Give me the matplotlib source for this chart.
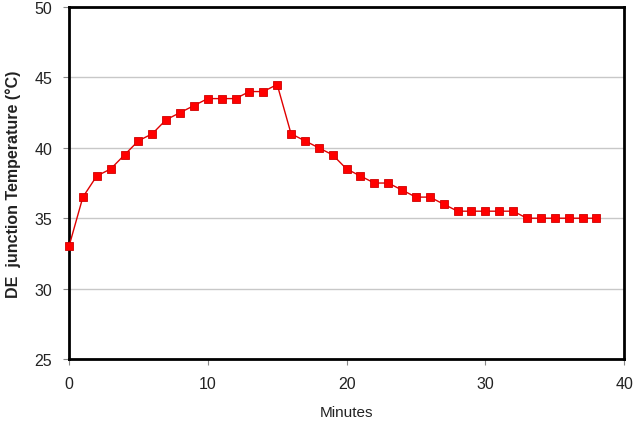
import numpy as np
import matplotlib
matplotlib.use('Agg')
import matplotlib.pyplot as plt

plt.rcParams['font.family'] = ['Liberation Sans', 'DejaVu Sans']

# 측정값 (분 단위, 접합부 온도 °C)
minutes = list(range(0, 39))
temps = [33, 36.5, 38, 38.5, 39.5, 40.5, 41, 42, 42.5, 43,
         43.5, 43.5, 43.5, 44, 44, 44.5, 41, 40.5, 40, 39.5,
         38.5, 38, 37.5, 37.5, 37, 36.5, 36.5, 36, 35.5, 35.5,
         35.5, 35.5, 35.5, 35, 35, 35, 35, 35, 35]
x_ticks = [0, 10, 20, 30, 40]
y_ticks = [25, 30, 35, 40, 45, 50]

fig = plt.figure(figsize=(6.33, 4.27), dpi=100)
ax = fig.add_axes([0.109, 0.157, 0.877, 0.824])

ax.plot(minutes, temps, color='#e00000', lw=1.0, marker='s', ms=5.8,
        mfc='#ff0000', mec='#d00000', mew=0.6, zorder=3, clip_on=False)

ax.set_xlim(0, 40); ax.set_ylim(25, 50)
ax.set_xticks(x_ticks); ax.set_yticks(y_ticks)
ax.yaxis.grid(True, color='#c8c8c8', lw=1.0)
ax.set_axisbelow(True)
for s in ax.spines.values():
    s.set_linewidth(2.0); s.set_color('black')
ax.tick_params(axis='both', labelsize=11.5, length=4, width=0.8, color='#888888',
               labelcolor='#222222', pad=8)
ax.set_xlabel("Minutes", fontsize=11, labelpad=10, color='#222222')
ax.set_ylabel("DE  junction Temperature (°C)", fontsize=11.5, fontweight='bold',
              labelpad=10, color='#222222')

plt.savefig("out.png", dpi=100)
